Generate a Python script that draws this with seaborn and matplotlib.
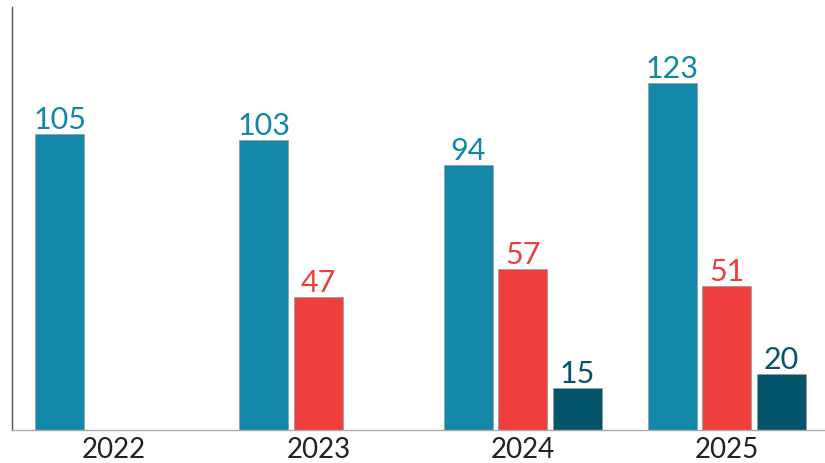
import numpy as np
import pandas as pd
import matplotlib
matplotlib.use("Agg")
import matplotlib.pyplot as plt
import seaborn as sns

years = ["2022", "2023", "2024", "2025"]
series_names = ["Series 1", "Series 2", "Series 3"]
series_1 = [105, 103, 94, 123]
series_2 = [np.nan, 47, 57, 51]
series_3 = [np.nan, np.nan, 15, 20]
colors = ["#1287A8", "#EE3E3E", "#04556A"]

rows = []
for name, vals in zip(series_names, [series_1, series_2, series_3]):
    for y, v in zip(years, vals):
        if not np.isnan(v):
            rows.append({"year": y, "series": name, "value": v})
df = pd.DataFrame(rows)

sns.set_theme(style="white")
plt.rcParams["font.family"] = ["Lato", "DejaVu Sans"]

fig = plt.figure(figsize=(8.25, 4.63), dpi=100)
ax = fig.add_axes([12 / 825, 33 / 463, 1 - 12 / 825, (430 - 7) / 463])

sns.barplot(data=df, x="year", y="value", hue="series", order=years,
            hue_order=series_names, palette=colors, saturation=1,
            width=0.8, gap=0.1, dodge=True, legend=False, ax=ax,
            edgecolor="#9a9a9a", linewidth=0.5)

for cont, col in zip(ax.containers, colors):
    ax.bar_label(cont, fmt="%d", padding=0, color=col, fontsize=22)

ax.set_xlim(-0.5, 3.48)
ax.set_ylim(0, 150)
ax.set_xlabel("")
ax.set_ylabel("")
ax.set_yticks([])
ax.tick_params(axis="x", which="major", length=0, labelsize=20, pad=5,
               labelcolor="#222222")
ax.set_xticks([0.5, 1.5, 2.5], minor=True)
ax.tick_params(axis="x", which="minor", direction="in", length=10,
               width=0.8, color="#555555")
for s in ["top", "right"]:
    ax.spines[s].set_visible(False)
ax.spines["left"].set_color("#555555")
ax.spines["left"].set_linewidth(1.0)
ax.spines["bottom"].set_color("#aaaaaa")
ax.spines["bottom"].set_linewidth(1.0)

fig.savefig("out.png", dpi=100)
